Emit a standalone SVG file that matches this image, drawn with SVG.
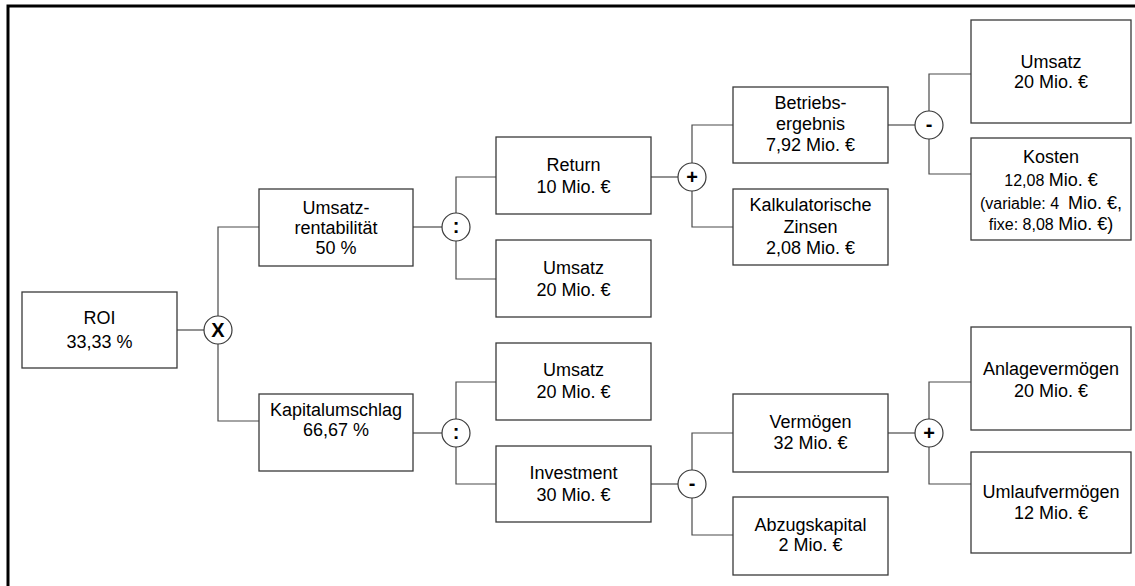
<svg xmlns="http://www.w3.org/2000/svg" width="1135" height="586" viewBox="0 0 1135 586">
<style>
.box{fill:#fff;stroke:#3a3a3a;stroke-width:1.3}
.op{fill:#fff;stroke:#3a3a3a;stroke-width:1.2}
.ln{fill:none;stroke:#4a4a4a;stroke-width:1.2}
.t{font-family:"Liberation Sans",Arial,sans-serif;font-size:18px;fill:#000;text-anchor:middle}
.s{font-size:16px}
.sym{font-family:"Liberation Sans",Arial,sans-serif;font-size:20px;font-weight:bold;fill:#000;text-anchor:middle}
</style>
<rect width="1135" height="586" fill="#fff"/>
<path d="M8,586 V6 H1135" fill="none" stroke="#000" stroke-width="3"/>
<g id="connectors">
<path class="ln" d="M177,330 H204"/>
<path class="ln" d="M259,227 H218 V421 H259"/>
<path class="ln" d="M413,227 H443"/>
<path class="ln" d="M496,177 H456 V279 H496"/>
<path class="ln" d="M651,177 H678"/>
<path class="ln" d="M733,125 H692 V227 H733"/>
<path class="ln" d="M888,125 H915"/>
<path class="ln" d="M971,74 H929 V174 H971"/>
<path class="ln" d="M413,433 H442"/>
<path class="ln" d="M496,382 H456 V484 H496"/>
<path class="ln" d="M651,484 H678"/>
<path class="ln" d="M733,433 H692 V535 H733"/>
<path class="ln" d="M888,433 H915"/>
<path class="ln" d="M971,382 H929 V484 H971"/>
</g>
<g id="op-mul"><circle class="op" cx="218" cy="330" r="14"/><text class="sym" x="218" y="337">X</text></g>
<g id="op-div1"><circle class="op" cx="456" cy="227" r="14"/><text class="sym" x="456" y="233">:</text></g>
<g id="op-plus1"><circle class="op" cx="692" cy="177" r="14"/><text class="sym" x="692" y="184">+</text></g>
<g id="op-minus1"><circle class="op" cx="929" cy="125" r="14"/><text class="sym" x="929" y="131">-</text></g>
<g id="op-div2"><circle class="op" cx="456" cy="433" r="14"/><text class="sym" x="456" y="439">:</text></g>
<g id="op-minus2"><circle class="op" cx="692" cy="484" r="14"/><text class="sym" x="692" y="490">-</text></g>
<g id="op-plus2"><circle class="op" cx="929" cy="433" r="14"/><text class="sym" x="929" y="440">+</text></g>

<g id="roi"><rect class="box" x="22" y="292" width="155" height="76"/>
<text class="t" x="99.5" y="324">ROI</text><text class="t" x="99.5" y="348">33,33 %</text></g>
<g id="umsatzrentabilitaet"><rect class="box" x="259" y="189" width="154" height="77"/>
<text class="t" x="336" y="214">Umsatz-</text><text class="t" x="336" y="234">rentabilität</text><text class="t" x="336" y="254">50 %</text></g>
<g id="kapitalumschlag"><rect class="box" x="259" y="394" width="154" height="77"/>
<text class="t" x="336" y="416">Kapitalumschlag</text><text class="t" x="336" y="436">66,67 %</text></g>
<g id="return"><rect class="box" x="496" y="137" width="155" height="77"/>
<text class="t" x="573.5" y="171">Return</text><text class="t" x="573.5" y="193">10 Mio. €</text></g>
<g id="umsatz1"><rect class="box" x="496" y="240" width="155" height="77"/>
<text class="t" x="573.5" y="274">Umsatz</text><text class="t" x="573.5" y="296">20 Mio. €</text></g>
<g id="umsatz2"><rect class="box" x="496" y="343" width="155" height="77"/>
<text class="t" x="573.5" y="376">Umsatz</text><text class="t" x="573.5" y="398">20 Mio. €</text></g>
<g id="investment"><rect class="box" x="496" y="446" width="155" height="76"/>
<text class="t" x="573.5" y="479">Investment</text><text class="t" x="573.5" y="501">30 Mio. €</text></g>
<g id="betriebsergebnis"><rect class="box" x="733" y="87" width="155" height="76"/>
<text class="t" x="810.5" y="109">Betriebs-</text><text class="t" x="810.5" y="130">ergebnis</text><text class="t" x="810.5" y="151">7,92 Mio. €</text></g>
<g id="kalkulatorische-zinsen"><rect class="box" x="733" y="189" width="155" height="76"/>
<text class="t" x="810.5" y="211">Kalkulatorische</text><text class="t" x="810.5" y="233">Zinsen</text><text class="t" x="810.5" y="254">2,08 Mio. €</text></g>
<g id="vermoegen"><rect class="box" x="733" y="394" width="155" height="78"/>
<text class="t" x="810.5" y="428">Vermögen</text><text class="t" x="810.5" y="449">32 Mio. €</text></g>
<g id="abzugskapital"><rect class="box" x="733" y="497" width="155" height="78"/>
<text class="t" x="810.5" y="531">Abzugskapital</text><text class="t" x="810.5" y="551">2 Mio. €</text></g>
<g id="umsatz3"><rect class="box" x="971" y="20" width="160" height="103"/>
<text class="t" x="1051" y="68">Umsatz</text><text class="t" x="1051" y="88">20 Mio. €</text></g>
<g id="kosten"><rect class="box" x="971" y="138" width="160" height="102"/>
<text class="t" x="1051" y="163">Kosten</text>
<text class="t" x="1051" y="186"><tspan class="s">12,08 </tspan>Mio. €</text>
<text class="t" x="1051" y="209"><tspan class="s">(variable: 4&#160; </tspan>Mio. €,</text>
<text class="t" x="1051" y="230"><tspan class="s">fixe: 8,08 </tspan>Mio. €)</text></g>
<g id="anlagevermoegen"><rect class="box" x="971" y="327" width="160" height="103"/>
<text class="t" x="1051" y="375">Anlagevermögen</text><text class="t" x="1051" y="397">20 Mio. €</text></g>
<g id="umlaufvermoegen"><rect class="box" x="971" y="452" width="160" height="101"/>
<text class="t" x="1051" y="498">Umlaufvermögen</text><text class="t" x="1051" y="519">12 Mio. €</text></g>
</svg>
